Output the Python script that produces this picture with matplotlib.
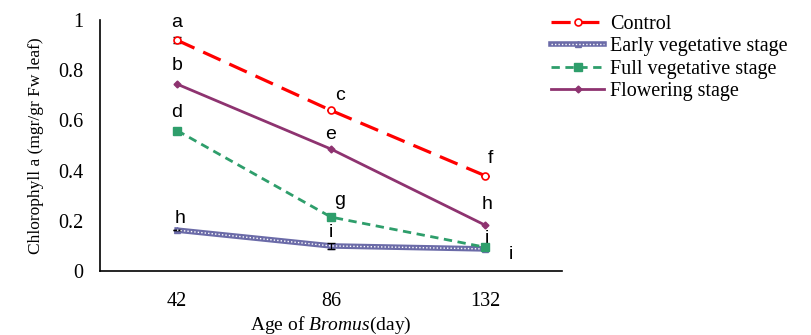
import matplotlib
matplotlib.use('Agg')
import matplotlib.pyplot as plt

plt.rcParams['font.family'] = 'Liberation Serif'
plt.rcParams['mathtext.fontset'] = 'custom'
plt.rcParams['mathtext.rm'] = 'Liberation Serif'
plt.rcParams['mathtext.it'] = 'Liberation Serif:italic'

dias = ['42', '86', '132']
controle = [0.92, 0.64, 0.38]
vegInicial = [0.163, 0.100, 0.088]
vegPleno = [0.56, 0.215, 0.095]
floracao = [0.745, 0.486, 0.183]

erroControle = [0.012, 0.0, 0.0]
erroVegInicial = [0.0, 0.012, 0.0]

letrasControle = ['a', 'c', 'f']
letrasVegInicial = ['h', 'i', 'i']
letrasVegPleno = ['d', 'g', 'i']
letrasFloracao = ['b', 'e', 'h']

x = [0.5, 1.5, 2.5]

fig = plt.figure(figsize=(8.11, 3.35), dpi=100)
ax = fig.add_axes([0.1233, 0.191, 0.5697, 0.749])

lc, = ax.plot(x, controle, color='#ff0000', lw=2.3, dashes=(6, 3),
              marker='o', ms=5, mfc='white', mec='#ff0000', mew=1.2, zorder=4)
ax.errorbar(x, controle, yerr=erroControle, fmt='none', ecolor='black',
            elinewidth=0.8, capsize=3, zorder=3)

le1, = ax.plot(x, vegInicial, color='#6b6ba8', lw=4, marker='^', ms=4,
               mec='#6b6ba8', mfc='#6b6ba8', zorder=3)
le2, = ax.plot(x, vegInicial, color='white', lw=1, ls=(0, (1, 1.5)), zorder=3.5)
ax.errorbar(x, vegInicial, yerr=erroVegInicial, fmt='none', ecolor='black',
            elinewidth=0.8, capsize=3, zorder=3)

lf, = ax.plot(x, vegPleno, color='#2e9e6b', lw=2, dashes=(3, 2),
              marker='s', ms=6, mfc='#2e9e6b', mec='#2e9e6b', zorder=4)
lfl, = ax.plot(x, floracao, color='#8e3370', lw=2, marker='D', ms=3.5,
               mfc='#8e3370', mec='#8e3370', zorder=4)

ax.set_xlim(0, 3)
ax.set_ylim(0, 1)
ax.set_xticks(x)
ax.set_xticklabels(dias)
ax.set_yticks([0, 0.2, 0.4, 0.6, 0.8, 1])
ax.set_yticklabels(['0', '0.2', '0.4', '0.6', '0.8', '1'])
ax.tick_params(length=0, labelsize=14.5)
ax.tick_params(axis='y', pad=12)
ax.tick_params(axis='x', pad=15)
ax.spines['top'].set_visible(False)
ax.spines['right'].set_visible(False)
ax.spines['left'].set_linewidth(1.2)
ax.spines['bottom'].set_linewidth(1.2)

ax.set_ylabel('Chlorophyll a (mgr/gr Fw leaf)', fontsize=12.5, labelpad=10)
ax.set_xlabel('Age of $\\it{Bromus}$(day)', fontsize=14, labelpad=3)

# deslocamento das letras em pixels
desloc = {
    'c': [(0, 18), (9, 15), (5, 17)],
    'e': [(3, 12), (0, 13), (26, -6)],
    'p': [(0, 18), (9, 17), (2, 9)],
    'f': [(0, 19), (0, 15), (2, 21)],
}
series = [('c', controle, letrasControle), ('e', vegInicial, letrasVegInicial),
          ('p', vegPleno, letrasVegPleno), ('f', floracao, letrasFloracao)]
for chave, valores, letras in series:
    for i in range(len(valores)):
        ax.annotate(letras[i], (x[i], valores[i]), xytext=desloc[chave][i],
                    textcoords='offset pixels', ha='center', va='center',
                    fontsize=14, family='Liberation Sans', annotation_clip=False)

fig.legend([lc, (le1, le2), lf, lfl],
           ['Control', 'Early vegetative stage', 'Full vegetative stage', 'Flowering stage'],
           loc='upper left', bbox_to_anchor=(0.680, 0.955), frameon=False,
           fontsize=14.5, handlelength=2.6, handletextpad=0.3, labelspacing=0.16,
           borderpad=0, borderaxespad=0)

fig.savefig('out.png', dpi=100)
